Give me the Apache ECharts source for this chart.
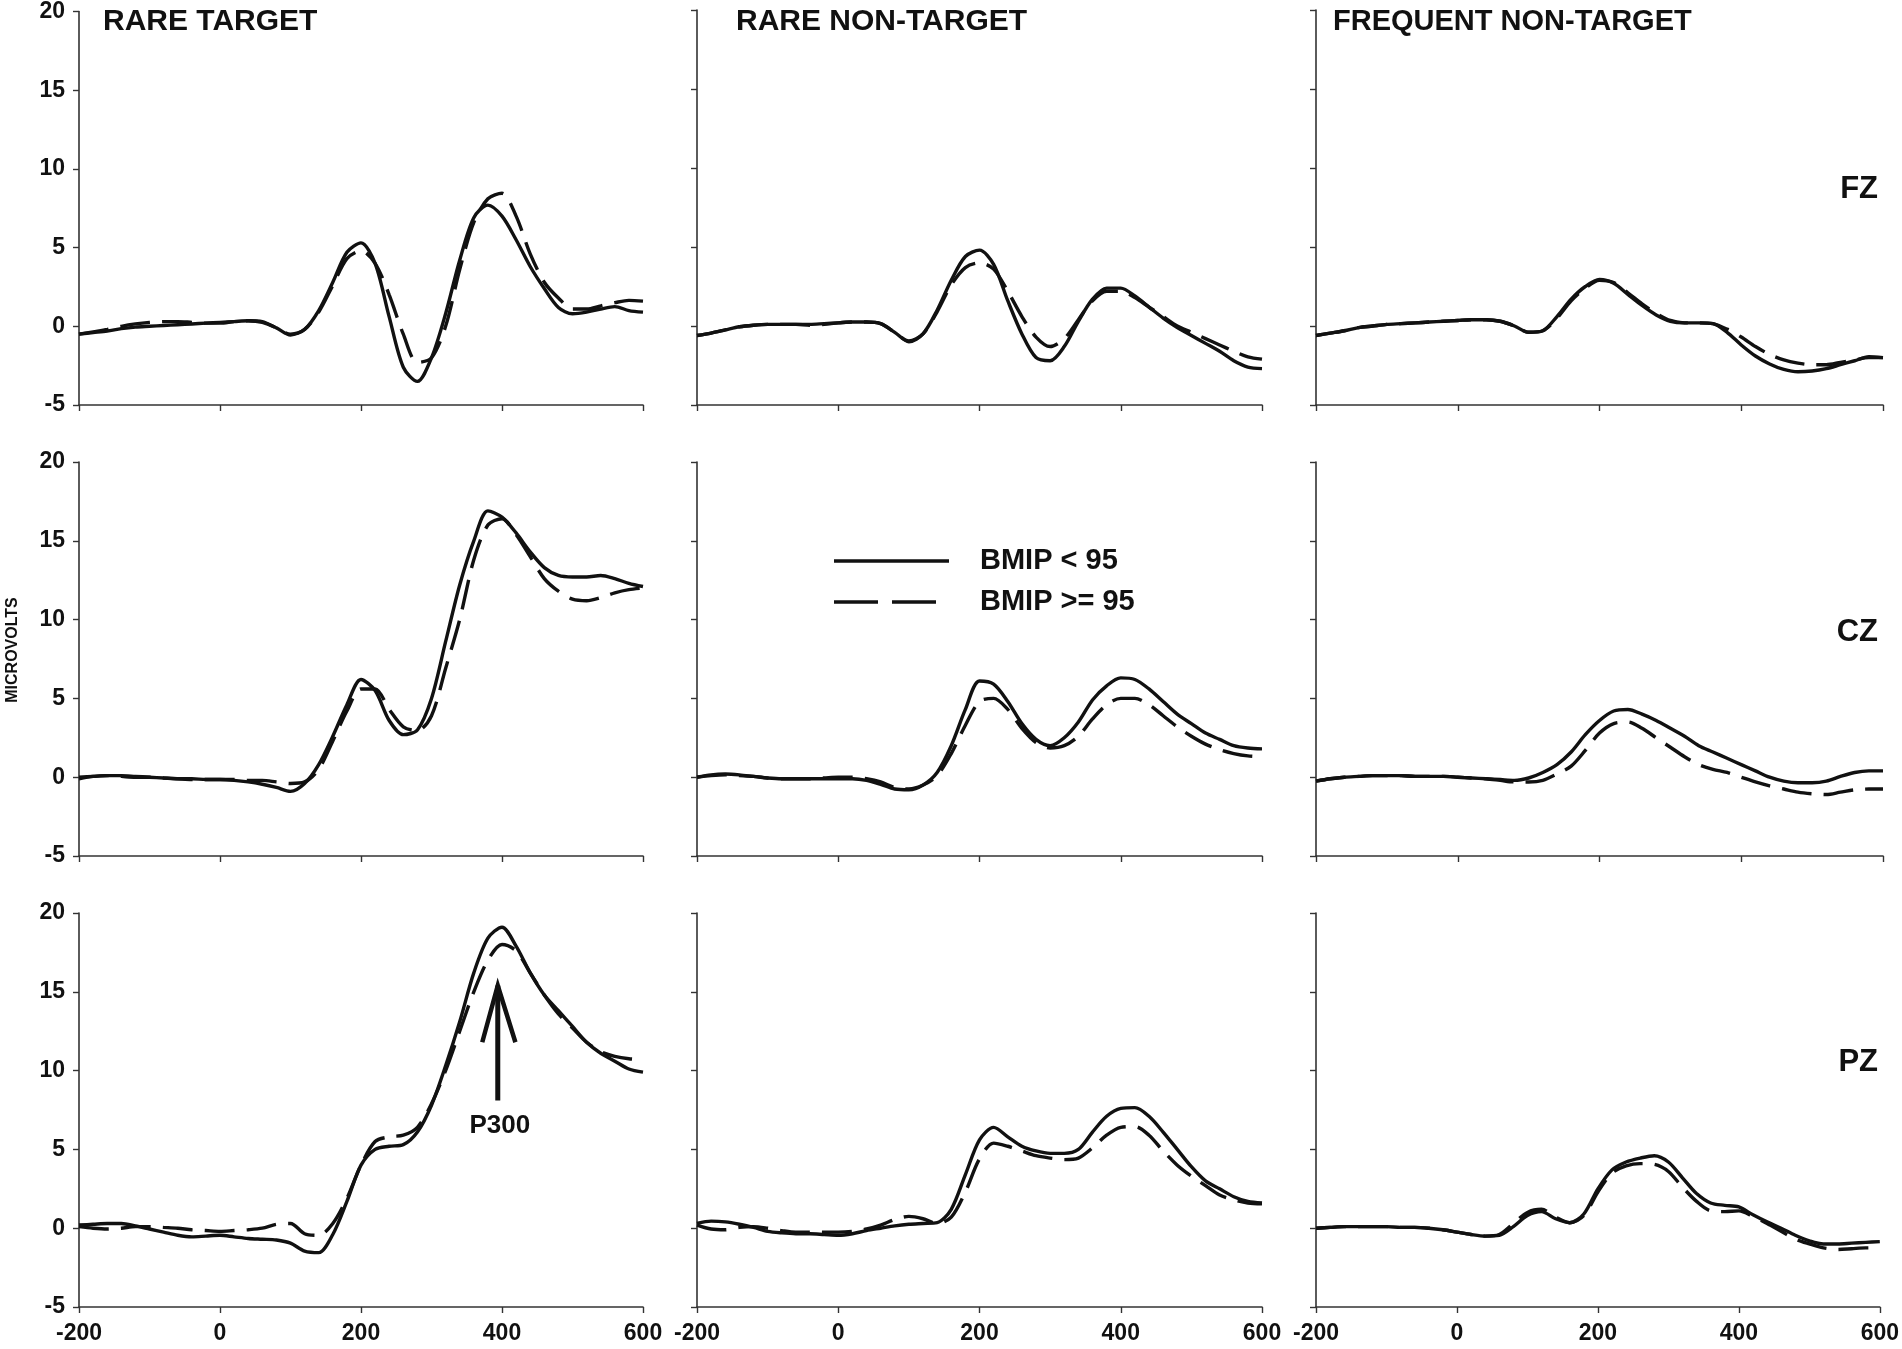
<!DOCTYPE html>
<html><head><meta charset="utf-8">
<script src="https://cdn.jsdelivr.net/npm/echarts@6/dist/echarts.min.js"></script>
<style>html,body{margin:0;padding:0;background:#fff;}#c{width:1902px;height:1349px;}</style>
</head><body><div id="c"></div>
<script>
// ---------- DATA ----------
const times = [-200,-180,-160,-140,-120,-100,-80,-60,-40,-20,0,20,40,60,80,100,120,140,160,180,200,220,240,260,280,300,320,340,360,380,400,420,440,460,480,500,520,540,560,580,600];
const xTickValues = [-200, 0, 200, 400, 600];
const yTickValues = [-5, 0, 5, 10, 15, 20];
const conditions = ['RARE TARGET', 'RARE NON-TARGET', 'FREQUENT NON-TARGET'];
const channels = ['FZ', 'CZ', 'PZ'];
const groupNames = ['BMIP < 95', 'BMIP >= 95'];
const yAxisTitle = 'MICROVOLTS';

// FZ
const rtFzLow  = [-0.5,-0.4,-0.3,-0.15,-0.05,0.0,0.05,0.1,0.15,0.2,0.25,0.3,0.35,0.25,-0.1,-0.55,-0.2,1.0,2.8,4.7,5.3,4.0,0.6,-2.6,-3.5,-2.0,0.8,4.2,6.9,7.7,7.0,5.5,3.8,2.4,1.2,0.8,0.9,1.1,1.25,1.0,0.9];
const rtFzHigh = [-0.5,-0.35,-0.2,0.0,0.15,0.25,0.3,0.3,0.25,0.2,0.2,0.3,0.35,0.3,-0.1,-0.5,-0.2,0.9,2.6,4.3,4.8,4.0,2.0,-0.5,-2.3,-2.0,0.0,3.6,6.6,8.1,8.45,7.0,4.6,2.8,1.8,1.1,1.1,1.3,1.5,1.65,1.6];
const rnFzLow  = [-0.6,-0.45,-0.25,-0.05,0.05,0.1,0.1,0.1,0.1,0.15,0.2,0.25,0.25,0.15,-0.4,-1.0,-0.5,1.0,2.9,4.4,4.8,3.9,1.6,-0.5,-2.0,-2.2,-1.3,0.3,1.7,2.4,2.4,1.9,1.2,0.5,-0.1,-0.6,-1.1,-1.6,-2.2,-2.6,-2.7];
const rnFzHigh = [-0.6,-0.45,-0.25,-0.05,0.05,0.1,0.1,0.1,0.05,0.1,0.2,0.25,0.25,0.15,-0.4,-0.95,-0.5,0.9,2.6,3.7,4.0,3.6,2.2,0.6,-0.7,-1.3,-0.8,0.4,1.6,2.2,2.2,1.8,1.2,0.6,0.0,-0.4,-0.8,-1.2,-1.6,-1.95,-2.1];
const fnFzLow  = [-0.6,-0.45,-0.3,-0.1,0.0,0.1,0.15,0.2,0.25,0.3,0.35,0.4,0.4,0.3,0.0,-0.4,-0.3,0.6,1.7,2.5,2.95,2.7,2.0,1.3,0.7,0.3,0.2,0.2,0.15,-0.4,-1.2,-1.9,-2.4,-2.75,-2.9,-2.85,-2.7,-2.45,-2.2,-1.95,-2.0];
const fnFzHigh = [-0.6,-0.45,-0.3,-0.1,0.0,0.1,0.15,0.2,0.25,0.3,0.35,0.4,0.4,0.3,0.0,-0.4,-0.3,0.5,1.6,2.4,2.9,2.75,2.1,1.4,0.8,0.35,0.2,0.2,0.15,-0.2,-0.7,-1.3,-1.8,-2.15,-2.35,-2.45,-2.45,-2.3,-2.15,-2.0,-2.0];
// CZ
const rtCzLow  = [0.0,0.05,0.1,0.1,0.05,0.0,-0.05,-0.1,-0.1,-0.15,-0.15,-0.2,-0.3,-0.45,-0.65,-0.9,-0.4,0.8,2.6,4.6,6.2,5.5,3.6,2.7,3.0,5.0,8.6,12.2,15.0,16.9,16.5,15.5,14.3,13.3,12.8,12.7,12.7,12.8,12.6,12.3,12.1];
const rtCzHigh = [-0.1,0.05,0.1,0.05,0.0,0.0,-0.05,-0.1,-0.15,-0.15,-0.15,-0.15,-0.2,-0.2,-0.3,-0.4,-0.3,0.5,2.3,4.2,5.6,5.6,4.3,3.2,2.95,3.9,6.9,10.0,13.8,16.0,16.4,15.4,14.0,12.6,11.8,11.3,11.2,11.4,11.7,11.9,12.0];
const rnCzLow  = [0.0,0.15,0.2,0.15,0.05,-0.05,-0.1,-0.1,-0.1,-0.1,-0.1,-0.1,-0.2,-0.45,-0.75,-0.8,-0.5,0.3,2.0,4.3,6.1,5.9,4.8,3.4,2.4,2.0,2.5,3.5,4.9,5.8,6.3,6.2,5.6,4.8,4.0,3.4,2.8,2.4,2.0,1.85,1.8];
const rnCzHigh = [0.0,0.1,0.15,0.1,0.05,-0.05,-0.1,-0.1,-0.1,-0.05,0.0,0.0,-0.1,-0.3,-0.65,-0.75,-0.5,0.1,1.5,3.3,4.8,5.0,4.3,3.1,2.2,1.85,2.0,2.6,3.7,4.6,5.0,5.0,4.6,3.9,3.2,2.6,2.1,1.75,1.5,1.35,1.3];
const fnCzLow  = [-0.25,-0.1,0.0,0.05,0.1,0.1,0.1,0.05,0.05,0.05,0.0,-0.05,-0.1,-0.15,-0.2,-0.05,0.3,0.8,1.6,2.7,3.6,4.2,4.3,4.0,3.6,3.1,2.6,2.0,1.6,1.2,0.8,0.4,0.0,-0.25,-0.35,-0.35,-0.25,0.05,0.3,0.4,0.4];
const fnCzHigh = [-0.25,-0.1,0.0,0.05,0.1,0.1,0.1,0.05,0.05,0.05,0.0,-0.05,-0.1,-0.2,-0.3,-0.3,-0.2,0.2,0.7,1.7,2.8,3.4,3.5,3.1,2.5,1.9,1.3,0.8,0.5,0.3,0.0,-0.3,-0.55,-0.75,-0.95,-1.05,-1.1,-0.95,-0.8,-0.75,-0.75];
// PZ
const rtPzLow  = [0.2,0.25,0.3,0.3,0.15,-0.05,-0.25,-0.45,-0.55,-0.5,-0.45,-0.55,-0.65,-0.7,-0.75,-0.95,-1.45,-1.55,-0.4,1.7,4.0,5.0,5.2,5.3,6.1,7.8,10.3,13.1,16.2,18.4,19.1,17.9,16.2,14.8,13.8,12.8,11.8,11.1,10.6,10.1,9.9];
const rtPzHigh = [0.1,0.0,-0.05,0.0,0.1,0.1,0.05,0.0,-0.1,-0.15,-0.2,-0.15,-0.1,0.0,0.25,0.3,-0.35,-0.45,0.3,1.9,4.0,5.5,5.8,5.9,6.4,7.9,10.0,12.5,15.0,17.0,18.0,17.6,16.2,14.8,13.6,12.7,11.8,11.2,10.9,10.75,10.7];
const rnPzLow  = [0.3,0.45,0.4,0.25,0.05,-0.2,-0.3,-0.35,-0.35,-0.4,-0.45,-0.35,-0.15,0.0,0.15,0.25,0.3,0.35,1.2,3.4,5.6,6.4,5.8,5.2,4.9,4.75,4.75,5.0,6.1,7.1,7.6,7.65,7.1,6.1,5.0,3.9,3.0,2.5,2.0,1.7,1.6];
const rnPzHigh = [0.2,-0.05,-0.1,0.05,0.1,0.0,-0.15,-0.25,-0.25,-0.25,-0.25,-0.2,-0.05,0.2,0.55,0.75,0.6,0.3,0.7,2.3,4.4,5.4,5.2,4.9,4.6,4.45,4.35,4.45,5.1,5.9,6.4,6.45,5.9,4.9,4.0,3.3,2.7,2.1,1.8,1.6,1.55];
const fnPzLow  = [0.0,0.05,0.1,0.1,0.1,0.1,0.05,0.05,0.0,-0.1,-0.25,-0.4,-0.5,-0.45,0.1,0.8,1.05,0.6,0.35,0.9,2.5,3.7,4.2,4.45,4.6,4.2,3.2,2.2,1.6,1.45,1.35,0.85,0.4,0.0,-0.45,-0.8,-1.0,-1.0,-0.95,-0.9,-0.85];
const fnPzHigh = [0.0,0.05,0.1,0.1,0.1,0.1,0.05,0.05,0.0,-0.1,-0.25,-0.4,-0.5,-0.4,0.3,1.0,1.2,0.7,0.35,0.8,2.3,3.5,3.95,4.1,4.05,3.6,2.6,1.7,1.1,1.05,1.1,0.75,0.3,-0.2,-0.7,-1.0,-1.25,-1.35,-1.3,-1.25,-1.25];

// P300 annotation (data coordinates of RARE TARGET / PZ panel)
const p300Shaft = [[394, 8.1], [394, 15.4]];
const p300Head  = [[372, 11.8], [394, 15.4], [419, 11.8]];
const p300Label = [[397, 6.5]];

const panelData = [
  [[rtFzLow, rtFzHigh], [rnFzLow, rnFzHigh], [fnFzLow, fnFzHigh]],
  [[rtCzLow, rtCzHigh], [rnCzLow, rnCzHigh], [fnCzLow, fnCzHigh]],
  [[rtPzLow, rtPzHigh], [rnPzLow, rnPzHigh], [fnPzLow, fnPzHigh]]
];

// ---------- LAYOUT ----------
const FONT = '"Liberation Sans", Arial, sans-serif';
const INK = '#111111';
const gridLeft = [79, 697, 1316];
const gridWidth = [564, 565, 567];
const gridTop = [10, 462, 913];
const gridHeight = [395, 394, 394];

const grids = [], xAxes = [], yAxes = [], series = [];
for (let r = 0; r < 3; r++) {
  for (let c = 0; c < 3; c++) {
    const idx = r * 3 + c;
    grids.push({ left: gridLeft[c], top: gridTop[r], width: gridWidth[c], height: gridHeight[r], containLabel: false });
    xAxes.push({
      gridIndex: idx, type: 'value', min: -200, max: 600, interval: 200,
      axisLine: { show: true, onZero: false, lineStyle: { color: '#333333', width: 1.6 } },
      axisTick: { show: true, length: 6, lineStyle: { color: '#333333', width: 1.4 } },
      axisLabel: { show: r === 2, margin: 15, color: INK, fontFamily: FONT, fontWeight: 'bold', fontSize: 23,
        formatter: v => xTickValues.includes(v) ? String(v) : '' },
      splitLine: { show: false }
    });
    yAxes.push({
      gridIndex: idx, type: 'value', min: -5, max: 20, interval: 5,
      axisLine: { show: true, onZero: false, lineStyle: { color: '#333333', width: 1.6 } },
      axisTick: { show: true, length: 6, lineStyle: { color: '#333333', width: 1.4 } },
      axisLabel: { show: c === 0, margin: 14, color: INK, fontFamily: FONT, fontWeight: 'bold', fontSize: 23,
        formatter: v => yTickValues.includes(v) ? String(v) : '' },
      splitLine: { show: false }
    });
    const pair = panelData[r][c];
    pair.forEach((vals, k) => {
      series.push({
        name: groupNames[k], type: 'line', xAxisIndex: idx, yAxisIndex: idx,
        data: times.map((t, i) => [t, vals[i]]),
        showSymbol: false, symbol: 'none', smooth: 0.3, animation: false, silent: true,
        lineStyle: { color: INK, width: 3.4, type: k === 0 ? 'solid' : [30, 12] },
        z: k === 0 ? 3 : 2
      });
    });
  }
}
// P300 arrow + label in panel index 6
series.push({ type: 'line', xAxisIndex: 6, yAxisIndex: 6, data: p300Shaft, showSymbol: false, symbol: 'none',
  animation: false, silent: true, lineStyle: { color: INK, width: 5 } });
series.push({ type: 'line', xAxisIndex: 6, yAxisIndex: 6, data: p300Head, showSymbol: false, symbol: 'none',
  animation: false, silent: true, lineStyle: { color: INK, width: 4.5, join: 'miter' } });
series.push({ type: 'scatter', xAxisIndex: 6, yAxisIndex: 6, data: p300Label, symbolSize: 0, animation: false, silent: true,
  itemStyle: { opacity: 1 },
  label: { show: true, position: 'inside', formatter: 'P300', color: INK, opacity: 1, textBorderWidth: 0,
    fontFamily: FONT, fontWeight: 'bold', fontSize: 26 } });

const txt = (text, x, y, size, align, extra) => Object.assign({
  type: 'text', x: x, y: y, silent: true,
  style: { text: text, fill: INK, font: 'bold ' + size + 'px ' + FONT, align: align || 'left', verticalAlign: 'middle' }
}, extra || {});

const graphic = [
  txt(conditions[0], 103, 22, 30),
  txt(conditions[1], 736, 22, 30),
  txt(conditions[2], 1333, 22, 29),
  txt(channels[0], 1878, 189, 31, 'right'),
  txt(channels[1], 1878, 632, 31, 'right'),
  txt(channels[2], 1878, 1062, 31, 'right'),
  txt(yAxisTitle, 13, 650, 16, 'center', { rotation: Math.PI / 2 }),
  { type: 'line', silent: true, shape: { x1: 834, y1: 561, x2: 949, y2: 561 }, style: { stroke: INK, lineWidth: 3.5 } },
  { type: 'line', silent: true, shape: { x1: 834, y1: 602, x2: 949, y2: 602 }, style: { stroke: INK, lineWidth: 3.5, lineDash: [44, 14] } },
  txt(groupNames[0], 980, 561, 29),
  txt(groupNames[1], 980, 602, 29)
];

const chart = echarts.init(document.getElementById('c'), null, { renderer: 'canvas' });
chart.setOption({
  backgroundColor: '#ffffff',
  animation: false,
  grid: grids, xAxis: xAxes, yAxis: yAxes, series: series, graphic: graphic
});
</script></body></html>
